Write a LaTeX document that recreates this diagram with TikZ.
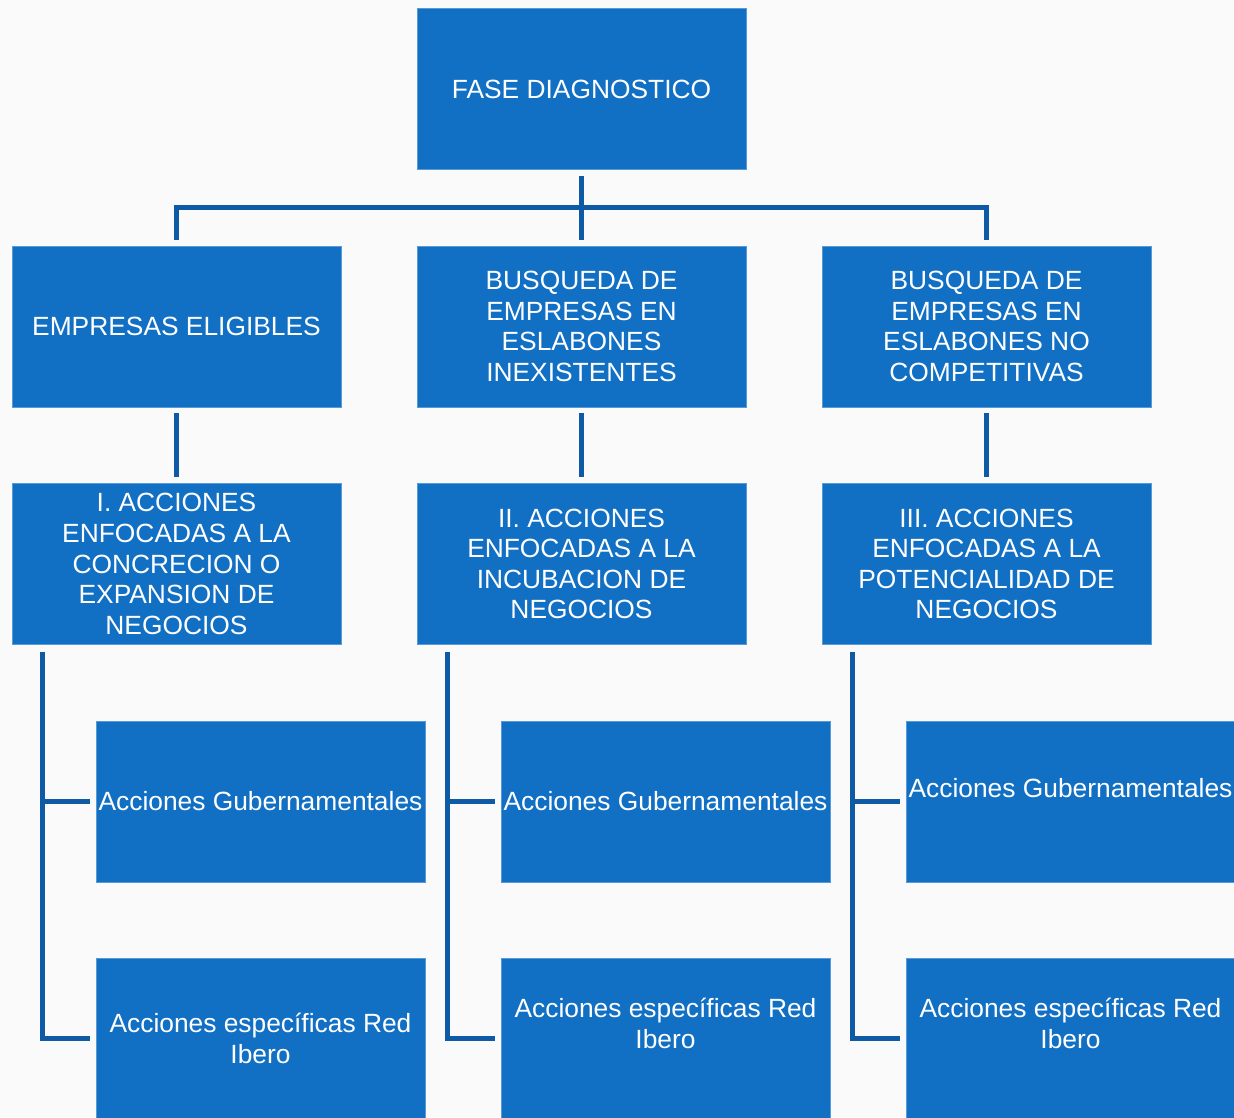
\documentclass[tikz,border=0pt]{standalone}
\usepackage{fontspec}
\setmainfont{Liberation Sans}
\definecolor{boxblue}{RGB}{17,111,196}
\definecolor{lineblue}{RGB}{14,90,165}
\tikzset{
    fase/.style={draw=boxblue!70!white, line width=0.4pt, fill=boxblue, text=white,
        minimum width=6.58cm, minimum height=3.22cm, inner sep=0pt, align=center,
        font=\fontsize{15pt}{17.4pt}\selectfont},
    conn/.style={draw=lineblue, line width=2.8pt}
}
\begin{document}
\begin{tikzpicture}
            \fill[gray!4] (0,0) rectangle (24.68,-22.34);
            \useasboundingbox (0,0) rectangle (24.68,-22.34);
            \clip (0,0) rectangle (24.68,-22.34);

            \node[fase] (diag) at (11.63,-1.78) {FASE DIAGNOSTICO};

            \node[fase] (elig) at (3.53,-6.53) {EMPRESAS ELIGIBLES};
            \node[fase] (inex) at (11.63,-6.53) {BUSQUEDA DE\\EMPRESAS EN\\ESLABONES\\INEXISTENTES};
            \node[fase] (nocomp) at (19.73,-6.53) {BUSQUEDA DE\\EMPRESAS EN\\ESLABONES NO\\COMPETITIVAS};

            \node[fase] (acc1) at (3.53,-11.28) {I. ACCIONES\\ENFOCADAS A LA\\CONCRECION O\\EXPANSION DE\\NEGOCIOS};
            \node[fase] (acc2) at (11.63,-11.28) {II. ACCIONES\\ENFOCADAS A LA\\INCUBACION DE\\NEGOCIOS};
            \node[fase] (acc3) at (19.73,-11.28) {III. ACCIONES\\ENFOCADAS A LA\\POTENCIALIDAD DE\\NEGOCIOS};

            \node[fase] (gub1) at (5.21,-16.03) {Acciones Gubernamentales};
            \node[fase] (gub2) at (13.31,-16.03) {Acciones Gubernamentales};
            \node[fase] (gub3) at (21.41,-16.03) {\raisebox{0.56cm}{Acciones Gubernamentales}};
            \node[fase] (esp1) at (5.21,-20.77) {Acciones específicas Red\\Ibero};
            \node[fase] (esp2) at (13.31,-20.77) {Acciones específicas Red\\Ibero\\[-0.01cm]};
            \node[fase] (esp3) at (21.41,-20.77) {Acciones específicas Red\\Ibero\\[-0.01cm]};

            % upper tree
            \draw[conn] ([yshift=-0.12cm]diag.south) -- ([yshift=0.12cm]inex.north);
            \draw[conn] ([yshift=0.12cm]elig.north) -- ++(0,0.64) -| ([yshift=0.12cm]nocomp.north);

            \draw[conn] ([yshift=-0.12cm]elig.south) -- ([yshift=0.12cm]acc1.north);
            \draw[conn] ([yshift=-0.12cm]inex.south) -- ([yshift=0.12cm]acc2.north);
            \draw[conn] ([yshift=-0.12cm]nocomp.south) -- ([yshift=0.12cm]acc3.north);

            % lower branches
            \coordinate (t1) at ([xshift=0.62cm,yshift=-0.14cm]acc1.south west);
            \coordinate (t2) at ([xshift=0.62cm,yshift=-0.14cm]acc2.south west);
            \coordinate (t3) at ([xshift=0.62cm,yshift=-0.14cm]acc3.south west);
            \draw[conn] (t1) |- ([xshift=-0.12cm]esp1.west);
            \draw[conn] (gub1.west -| t1) -- ([xshift=-0.12cm]gub1.west);
            \draw[conn] (t2) |- ([xshift=-0.12cm]esp2.west);
            \draw[conn] (gub2.west -| t2) -- ([xshift=-0.12cm]gub2.west);
            \draw[conn] (t3) |- ([xshift=-0.12cm]esp3.west);
            \draw[conn] (gub3.west -| t3) -- ([xshift=-0.12cm]gub3.west);
\end{tikzpicture}
\end{document}
